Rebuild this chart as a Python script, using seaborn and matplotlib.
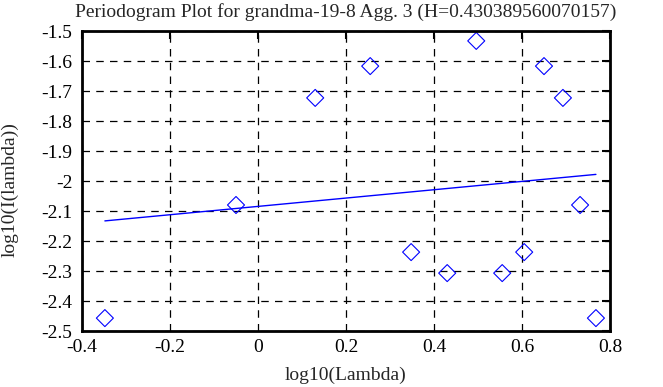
import numpy as np
import matplotlib
matplotlib.use('Agg')
import matplotlib.pyplot as plt
import seaborn as sns
import pandas as pd

# Periodogram points (log10 lambda, log10 I(lambda))
log_lambda = [-0.348, -0.050, 0.130, 0.255, 0.348, 0.430, 0.496,
              0.555, 0.605, 0.650, 0.693, 0.732, 0.768]
log_I = [-2.457, -2.080, -1.723, -1.617, -2.237, -2.307, -1.533,
         -2.307, -2.237, -1.617, -1.723, -2.080, -2.457]

# fitted line end points
fit_x = [-0.348, 0.768]
fit_y = [-2.133, -1.978]

title = 'Periodogram Plot for grandma-19-8 Agg. 3 (H=0.430389560070157)'

points = pd.DataFrame({'x': log_lambda, 'y': log_I})
fit = pd.DataFrame({'x': fit_x, 'y': fit_y})

sns.set_style('white')
plt.rcParams['font.family'] = ['Liberation Serif', 'DejaVu Serif']

fig = plt.figure(figsize=(6.63, 3.87), dpi=100)
ax = fig.add_axes([82 / 663, 1 - 331 / 387, 528 / 663, 300 / 387])

sns.lineplot(x='x', y='y', data=fit, color='blue', linewidth=1, ax=ax)
sns.scatterplot(x='x', y='y', data=points, marker='D', s=75,
                facecolor='none', edgecolor='blue', linewidth=0.8, ax=ax)

ax.set_xlim(-0.4, 0.8)
ax.set_ylim(-2.5, -1.5)
ax.set_xticks(np.arange(-0.4, 0.81, 0.2))
ax.set_yticks(np.arange(-2.5, -1.49, 0.1))
ax.set_xticklabels(['-0.4', '-0.2', '0', '0.2', '0.4', '0.6', '0.8'])
ax.set_yticklabels(['-2.5', '-2.4', '-2.3', '-2.2', '-2.1', '-2', '-1.9',
                    '-1.8', '-1.7', '-1.6', '-1.5'])
ax.grid(True, color='black', linestyle=(0, (6, 5)), linewidth=0.9)
ax.tick_params(direction='in', length=6, width=1.5, top=True, right=True,
               labelsize=14, colors='black')
ax.tick_params(axis='y', pad=7)
ax.tick_params(axis='x', pad=6)
for s in ax.spines.values():
    s.set_linewidth(2)
    s.set_color('black')

ax.set_xlabel('')
ax.set_ylabel('')
fig.text(346 / 663, 1 - 375 / 387, 'log10(Lambda)', ha='center', va='center', fontsize=14)
fig.text(10 / 663, 1 - 190 / 387, 'log10(I(lambda))', ha='center', va='center',
         rotation=90, fontsize=14)
fig.text(346 / 663, 1 - 12 / 387, title, ha='center', va='center', fontsize=14)

fig.savefig('out.png', dpi=100)
